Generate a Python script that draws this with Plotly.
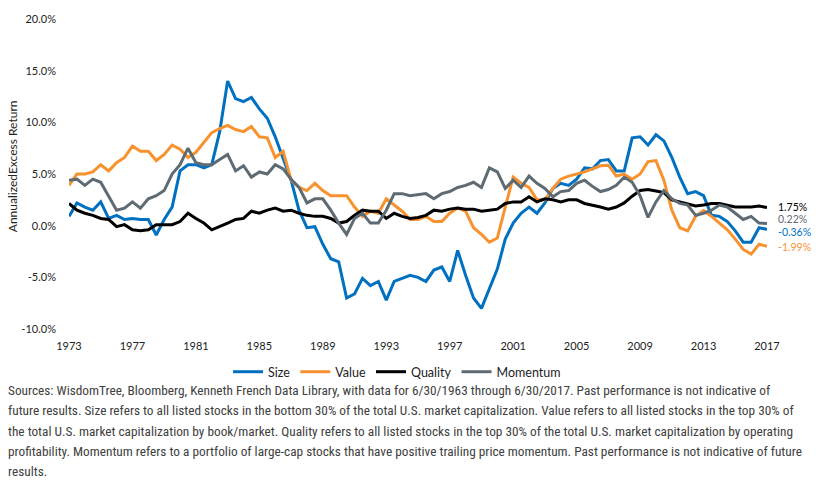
import plotly.graph_objects as go

# Half-yearly observations, mid-1973 through mid-2017 (annualized excess return, %)
periods = [1973.5 + 0.5 * i for i in range(89)]

size = [0.9, 2.2, 1.8, 1.5, 2.3, 0.7, 1.0, 0.6, 0.7, 0.6, 0.6, -0.9, 0.6, 1.8, 5.3, 5.9, 5.9, 5.6, 5.9, 9.1,
        14.0, 12.3, 12.0,
        12.4, 11.3, 10.4, 8.6, 6.6, 4.4, 1.5, -0.2, -0.1, -1.8, -3.2, -3.5, -7.0, -6.6, -5.1, -5.8, -5.4, -7.2,
        -5.4, -5.1, -4.8, -5.0,
        -5.4, -4.3, -4.0, -5.4, -2.4, -4.8, -7.0, -8.0, -6.1, -4.2, -1.3, 0.25, 1.2, 1.8, 1.2, 2.2, 3.6, 4.1,
        3.9, 4.5, 5.6, 5.5,
        6.3, 6.4, 5.3, 5.3, 8.5, 8.6, 7.8, 8.8, 8.2, 6.6, 4.7, 3.1, 3.3, 2.9, 1.0, 0.9, 0.4, -0.5, -1.6, -1.6,
        -0.2, -0.36]

value = [3.9, 5.0, 5.0, 5.2, 5.9, 5.3, 6.1, 6.6, 7.7, 7.2, 7.2, 6.3, 6.9, 7.8, 7.4, 6.6, 7.1, 8.0, 9.0, 9.4,
         9.7, 9.3, 9.1,
         9.6, 8.6, 8.5, 6.6, 7.2, 4.4, 3.7, 3.4, 4.1, 3.4, 2.9, 2.9, 2.9, 1.8, 0.9, 1.4, 1.2, 2.6, 2.0, 1.4,
         0.6, 0.6,
         0.9, 0.4, 0.4, 1.2, 1.7, 1.4, -0.2, -0.85, -1.6, -1.2, 1.8, 4.7, 4.1, 3.7, 2.5, 2.5, 3.6, 4.5, 4.8,
         5.0, 5.2, 5.5,
         5.8, 5.85, 4.8, 5.0, 4.5, 5.0, 6.2, 6.3, 4.4, 1.5, -0.2, -0.5, 0.9, 1.45, 0.9, 0.25, -0.4, -1.3, -2.3,
         -2.75, -1.8, -1.99]

quality = [2.15, 1.5, 1.2, 1.0, 0.7, 0.6, -0.1, 0.1, -0.4, -0.5, -0.4, 0.1, 0.1, 0.1, 0.4, 1.2, 0.7, 0.25,
           -0.4, -0.1, 0.25, 0.6, 0.7,
           1.4, 1.2, 1.5, 1.7, 1.4, 1.5, 1.2, 1.0, 0.9, 0.9, 0.7, 0.25, 0.4, 1.0, 1.5, 1.4, 1.4, 0.7, 1.2, 0.9,
           0.7, 0.8,
           1.0, 1.5, 1.4, 1.6, 1.7, 1.6, 1.6, 1.4, 1.5, 1.6, 2.15, 2.3, 2.3, 2.8, 2.3, 2.6, 2.5, 2.3, 2.5, 2.5,
           2.15, 2.0,
           1.8, 1.6, 1.8, 2.2, 2.85, 3.4, 3.5, 3.35, 3.2, 2.5, 2.3, 2.15, 1.9, 2.0, 2.15, 2.15, 2.0, 1.8, 1.8,
           1.8, 1.9, 1.75]

momentum = [4.4, 4.5, 3.9, 4.5, 4.2, 2.8, 1.5, 1.7, 2.3, 1.7, 2.6, 2.9, 3.4, 5.0, 5.9, 7.5, 6.1, 5.9, 5.9, 6.4,
            6.9, 5.3, 5.8,
            4.7, 5.2, 5.0, 5.9, 5.5, 4.5, 3.7, 2.2, 2.6, 2.6, 1.5, 0.25, -0.85, 0.7, 1.2, 0.25, 0.25, 1.5, 3.1,
            3.1, 2.9, 3.0,
            3.1, 2.6, 3.1, 3.3, 3.7, 3.9, 4.2, 3.7, 5.6, 5.2, 3.6, 4.4, 3.7, 4.8, 4.1, 3.6, 2.8, 3.3, 3.4, 4.1,
            4.4, 3.8,
            3.3, 3.5, 3.9, 4.7, 4.2, 2.9, 0.8, 2.3, 3.4, 2.6, 2.15, 2.0, 1.0, 1.2, 1.5, 2.0, 1.8, 1.2, 0.6, 0.9,
            0.25, 0.22]

series_names = ["Size", "Value", "Quality", "Momentum"]
series_values = [size, value, quality, momentum]
series_colors = ["#0070C0", "#F7922F", "#000000", "#5F6B73"]

tick_years = list(range(1973, 2018, 4))
y_ticks = [-10, -5, 0, 5, 10, 15, 20]

source_lines = [
    "Sources: WisdomTree, Bloomberg, Kenneth French Data Library, with data for 6/30/1963 through 6/30/2017. Past performance is not indicative of",
    "future results. Size refers to all listed stocks in the bottom 30% of the total U.S. market capitalization. Value refers to all listed stocks in the top 30% of",
    "the total U.S. market capitalization by book/market. Quality refers to all listed stocks in the top 30% of the total U.S. market capitalization by operating",
    "profitability. Momentum refers to a portfolio of large-cap stocks that have positive trailing price momentum. Past performance is not indicative of future",
    "results.",
]

FONT = "Lato, 'Open Sans', sans-serif"
NARROW = "'Liberation Sans Narrow', 'Arial Narrow', 'Roboto Condensed', 'Liberation Sans', sans-serif"

fig = go.Figure()
for name, vals, col in zip(series_names, series_values, series_colors):
    fig.add_trace(go.Scatter(x=periods, y=vals, name=name, mode="lines",
                             line=dict(color=col, width=3)))

x_range = [periods[0], periods[-1]]

fig.update_layout(
    width=816, height=489, autosize=False,
    margin=dict(l=69, r=49, t=13, b=160),
    paper_bgcolor="white", plot_bgcolor="white",
    font=dict(family=FONT, size=11, color="#222222"),
    showlegend=True,
    legend=dict(orientation="h", x=0.47, xanchor="center", y=-0.139, yanchor="middle",
                font=dict(family=FONT, size=12.5, color="#222222"),
                itemwidth=30, bgcolor="rgba(0,0,0,0)"),
    xaxis=dict(range=x_range, tickvals=[y + 0.5 for y in tick_years],
               ticktext=[str(y) for y in tick_years], showgrid=False, zeroline=False,
               showline=False, ticks="", ticklabelstandoff=9,
               tickfont=dict(family=FONT, size=11, color="#222222")),
    xaxis2=dict(range=x_range, overlaying="x", anchor="free", position=1 / 3, side="bottom",
                tickvals=[y + 0.5 for y in tick_years], showticklabels=False,
                showgrid=False, zeroline=False, showline=True, linecolor="#6B757D", linewidth=1.5,
                ticks="outside", ticklen=5, tickcolor="#6B757D", tickwidth=1.2),
    yaxis=dict(range=[-10, 20], tickvals=y_ticks, ticktext=[f"{v:.1f}%" for v in y_ticks],
               showgrid=False, zeroline=False, showline=False, ticks="", ticklabelstandoff=12,
               tickfont=dict(family=FONT, size=11, color="#222222")),
)

# axis title
fig.add_annotation(text="AnnualizedExcess Return", textangle=-90, xref="paper", yref="paper",
                   x=-0.0817, y=0.525, xanchor="center", yanchor="middle", showarrow=False,
                   font=dict(family=FONT, size=12, color="#222222"))

# end-of-series labels (vertical label positions offset to avoid overlap)
label_y = [-0.65, -2.05, 1.85, 0.6]
for vals, col, ly in zip(series_values, series_colors, label_y):
    fig.add_annotation(text=f"{vals[-1]:.2f}%", xref="paper", yref="y", x=1.0143, y=ly,
                       xanchor="left", yanchor="middle", showarrow=False, borderpad=0,
                       font=dict(family=FONT, size=10.5, color=col))

# footnote
line_px = [392, 412.5, 433, 453.5, 474]
for txt, py in zip(source_lines, line_px):
    fig.add_annotation(text=txt, xref="paper", yref="paper",
                       x=(6 - 69) / 698, y=(329 - py) / 316, xanchor="left", yanchor="middle",
                       showarrow=False, font=dict(family=NARROW, size=13.3, color="#404040"))

fig.write_html("out.html")
